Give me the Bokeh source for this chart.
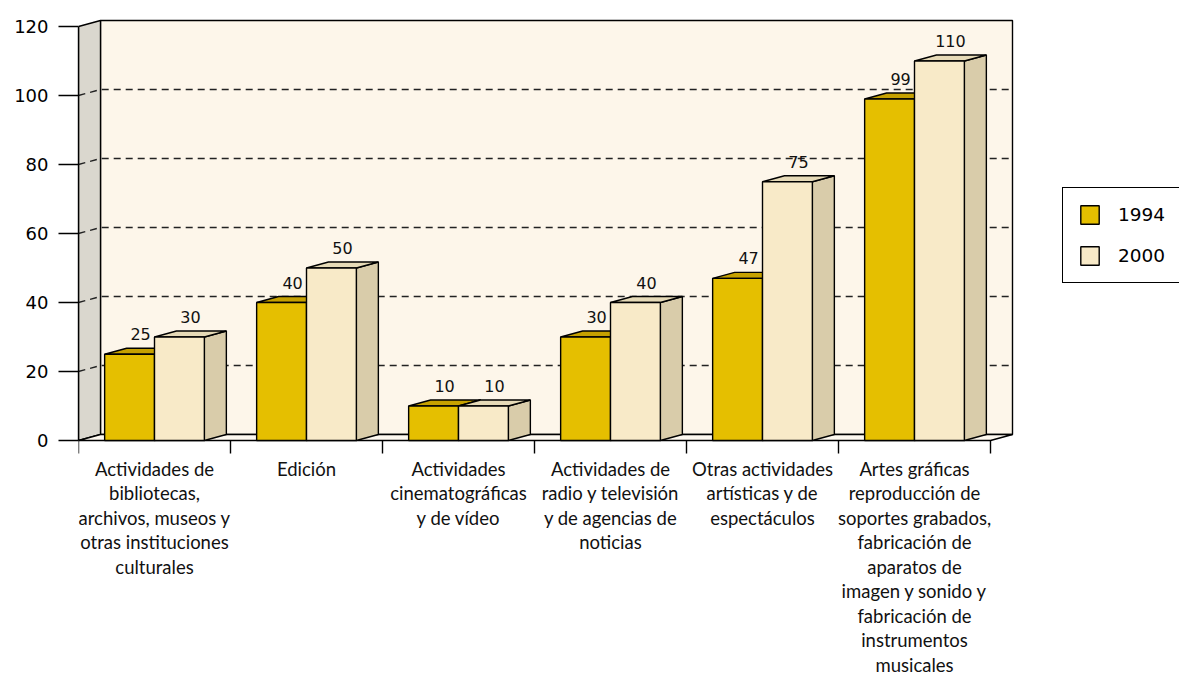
from bokeh.plotting import figure
from bokeh.models import Range1d, FixedTicker, Legend, LegendItem, ColumnDataSource
from bokeh.core.properties import value
from bokeh.embed import file_html
from bokeh.resources import INLINE

# ---------------- data ----------------
categories = [
    "Actividades de\nbibliotecas,\narchivos, museos y\notras instituciones\nculturales",
    "Edición",
    "Actividades\ncinematográficas\ny de vídeo",
    "Actividades de\nradio y televisión\ny de agencias de\nnoticias",
    "Otras actividades\nartísticas y de\nespectáculos",
    "Artes gráficas\nreproducción de\nsoportes grabados,\nfabricación de\naparatos de\nimagen y sonido y\nfabricación de\ninstrumentos\nmusicales",
]
series_names = ["1994", "2000"]
values_1994 = [25, 40, 10, 30, 47, 99]
values_2000 = [30, 50, 10, 40, 75, 110]
y_ticks = [0, 20, 40, 60, 80, 100, 120]

# ---------------- style ----------------
W, H = 1179, 678
LEFT = 78
PX_CAT = 152.0
PX_UNIT = 3.45
ZERO_PX = 440.0
DX = 22 / PX_CAT
DY = 6 / PX_UNIT
BAR_W = 0.328
LINE = "#000000"
LW = 1.4
FRONT = ["#E5BF00", "#F8EAC8"]
TOP = ["#C6A100", "#E6DAB7"]
SIDE = ["#B39200", "#D9CCAA"]
BACK_WALL = "#FDF6EA"
LEFT_WALL = "#DAD7CE"
FLOOR = "#FEF9F0"
NUM_FONT = "DejaVu Sans"
CAT_FONT = "Lato"

n = len(categories)
ymax = y_ticks[-1]

p = figure(width=W, height=H, output_backend="svg", toolbar_location=None,
           x_axis_location=None, min_border=0, min_border_left=LEFT,
           x_range=Range1d(0, (W - LEFT) / PX_CAT),
           y_range=Range1d(-(H - ZERO_PX) / PX_UNIT, ZERO_PX / PX_UNIT))
p.outline_line_color = None
p.xgrid.visible = False
p.ygrid.visible = False
p.background_fill_color = "white"
p.border_fill_color = "white"

# walls
p.quad(left=[DX], right=[n + DX], bottom=[DY], top=[ymax + DY],
       fill_color=BACK_WALL, line_color=LINE, line_width=LW)
p.patch([0, DX, DX, 0], [0, DY, ymax + DY, ymax],
        fill_color=LEFT_WALL, line_color=LINE, line_width=LW)
p.patch([0, n, n + DX, DX], [0, 0, DY, DY],
        fill_color=FLOOR, line_color=LINE, line_width=LW)

# gridlines
gx = [[0, DX, n + DX] for t in y_ticks[1:-1]]
gy = [[t, t + DY, t + DY] for t in y_ticks[1:-1]]
p.multi_line(gx, gy, line_color="#222222", line_width=1.3, line_dash="7 5")

# category tick marks
bounds = list(range(n + 1))
p.segment(x0=bounds, y0=[0] * len(bounds), x1=bounds,
          y1=[-13 / PX_UNIT] * len(bounds), line_color=LINE, line_width=LW)

# bars
front_renderers = []
for s, vals in enumerate([values_1994, values_2000]):
    x0 = [i + 0.5 - BAR_W + s * BAR_W for i in range(n)]
    x1 = [a + BAR_W for a in x0]
    side_xs = [[b, b + DX, b + DX, b] for b in x1]
    side_ys = [[0, DY, v + DY, v] for v in vals]
    p.patches(side_xs, side_ys, fill_color=SIDE[s], line_color=LINE, line_width=LW)
    top_xs = [[a, b, b + DX, a + DX] for a, b in zip(x0, x1)]
    top_ys = [[v, v, v + DY, v + DY] for v in vals]
    p.patches(top_xs, top_ys, fill_color=TOP[s], line_color=LINE, line_width=LW)
    r = p.quad(left=x0, right=x1, bottom=[0] * n, top=vals,
               fill_color=FRONT[s], line_color=LINE, line_width=LW)
    front_renderers.append(r)
    lab = ColumnDataSource(dict(x=[a + BAR_W / 2 + DX / 2 for a in x0],
                                y=[v + DY + 14 / PX_UNIT for v in vals],
                                t=[str(v) for v in vals]))
    p.text(x="x", y="y", text="t", source=lab, text_align="center",
           text_baseline="middle",
           text_font=value(NUM_FONT), text_font_size="16px", text_color="#111111")

# category labels
cl = ColumnDataSource(dict(x=[i + 0.5 for i in range(n)],
                           y=[-17 / PX_UNIT] * n, t=categories))
p.text(x="x", y="y", text="t", source=cl, text_align="center", text_baseline="top",
       text_font=value(CAT_FONT), text_font_size="18.5px", text_line_height=1.115,
       text_color="#111111")

# y axis
ax = p.yaxis[0]
ax.ticker = FixedTicker(ticks=y_ticks)
ax.bounds = (0, ymax)
ax.axis_line_color = LINE
ax.axis_line_width = LW
ax.major_tick_line_color = LINE
ax.major_tick_line_width = LW
ax.major_tick_out = 20
ax.major_tick_in = 0
ax.minor_tick_line_color = None
ax.major_label_standoff = 10
ax.major_label_text_font = NUM_FONT
ax.major_label_text_font_size = "18px"
ax.major_label_text_color = "#000000"

# legend
legend = Legend(items=[LegendItem(label=series_names[k], renderers=[front_renderers[k]])
                       for k in range(2)],
                location=(984, 395), orientation="vertical",
                border_line_color=LINE, border_line_width=LW, border_line_alpha=1.0,
                background_fill_color="white", background_fill_alpha=1.0,
                padding=15, spacing=18, margin=0,
                glyph_width=23, glyph_height=23, label_standoff=17,
                label_text_font=NUM_FONT, label_text_font_size="18.5px",
                label_text_color="#000000", label_height=23)
p.add_layout(legend)

open("out.html", "w").write(file_html(p, INLINE))
